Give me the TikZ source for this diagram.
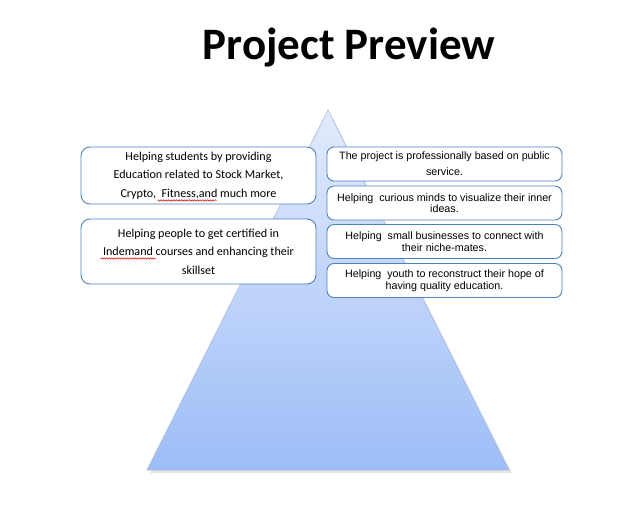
\documentclass[tikz,border=0pt]{standalone}
\usepackage{fontspec}
\setmainfont{Carlito}
\newfontfamily\arialf{Liberation Sans}
\usetikzlibrary{calc,decorations.pathmorphing}
\definecolor{boxline}{HTML}{4F81BD}
\definecolor{pyrtop}{HTML}{E2EBFC}
\definecolor{pyrbot}{HTML}{9DBDF7}
\definecolor{pyredge}{HTML}{A9BCD9}
\tikzset{
  leftbox/.style={draw=boxline, line width=0.9pt, fill=white, rounded corners=9pt,
    minimum width=235pt, align=center, inner sep=0pt,
    font=\fontsize{12.1}{18.5}\selectfont},
  rightbox/.style={draw=boxline, line width=0.9pt, fill=white, rounded corners=7pt,
    minimum width=235pt, minimum height=34pt, align=center, inner sep=0pt,
    font=\arialf\fontsize{10.7}{11.5}\selectfont},
  squiggle/.style={red!85!black, line width=0.5pt,
    decorate, decoration={snake, amplitude=0.7pt, segment length=2.6pt}}
}
\begin{document}
\begin{tikzpicture}[x=1pt,y=-1pt]
\useasboundingbox (0,0) rectangle (625,517);
\fill[white] (0,0) rectangle (625,517);

% title
\node[font=\bfseries\fontsize{45}{50}\selectfont] (title) at (349,48) {Project Preview};

% pyramid with a soft shadow
\fill[black!10] (330,113) -- (512,473) -- (150,473) -- cycle;
\shade[top color=pyrtop, bottom color=pyrbot, draw=pyredge, line width=0.6pt]
  (328,110) -- (509,470) -- (147,470) -- cycle;

% left column
\node[leftbox, minimum height=57pt] (l1) at (198.5,175.5)
  {Helping students by providing\\Education related to Stock Market,\\Crypto,\ \ Fitness,and much more};
\node[leftbox, minimum height=65pt] (l2) at (198.5,251.5)
  {Helping people to get certified in\\Indemand courses and enhancing their\\skillset};

% spell-check marks
\draw[squiggle] ($(l1.south west)+(77,-4)$) -- ++(59,0);
\draw[squiggle] ($(l2.south west)+(20,-26)$) -- ++(55,0);

% right column
\node[rightbox, font=\arialf\fontsize{10.7}{16}\selectfont] (r1) at (444.5,164)
  {The project is professionally based on public\\service.};
\node[rightbox] (r2) at (444.5,203)
  {Helping\ \ curious minds\ to visualize their inner\\ideas.};
\node[rightbox] (r3) at (444.5,241.5)
  {Helping\ \ small businesses to connect with\\their niche-mates.};
\node[rightbox] (r4) at (444.5,280.5)
  {Helping\ \ youth to reconstruct their hope of\\having quality education.};
\end{tikzpicture}
\end{document}
